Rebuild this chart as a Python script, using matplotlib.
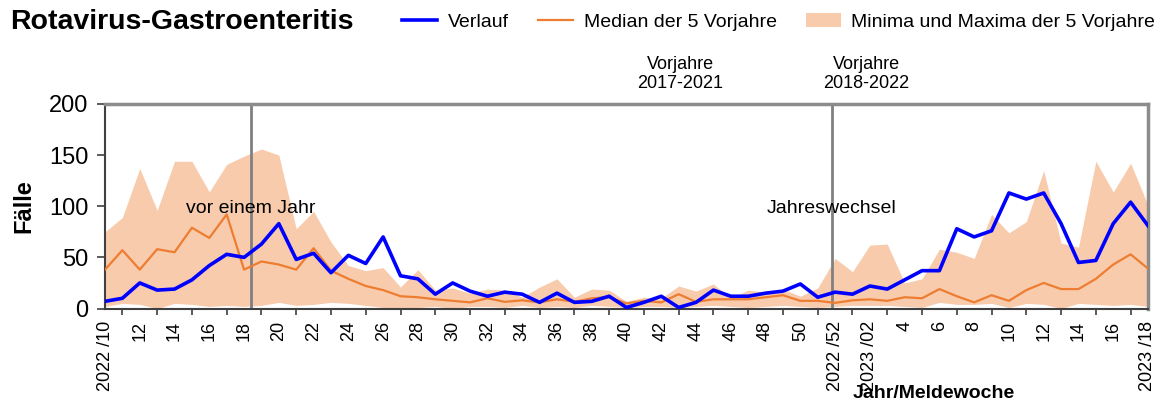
import numpy as np
import matplotlib
matplotlib.use("Agg")
import matplotlib.pyplot as plt
from matplotlib.lines import Line2D
from matplotlib.patches import Patch

plt.rcParams['font.family'] = ['Liberation Sans', 'DejaVu Sans']

# ================= Daten =================
# Meldewochen 2022/10 ... 2022/52, 2023/01 ... 2023/18
weeks = [f"2022/{w:02d}" for w in range(10, 53)] + [f"2023/{w:02d}" for w in range(1, 19)]

verlauf = [7, 10, 25, 18, 19, 28, 42, 53, 50, 63,
           83, 48, 54, 35, 52, 44, 70, 32, 29, 14,
           25, 17, 12, 16, 14, 6, 15, 6, 7, 12,
           1, 6, 12, 1, 6, 18, 12, 12, 15, 17,
           24, 11, 16, 14, 22, 19, 28, 37, 37, 78,
           70, 76, 113, 107, 113, 83, 45, 47, 83, 104,
           81]

median5 = [38, 57, 38, 58, 55, 79, 69, 92, 38, 46,
           43, 38, 59, 37, 29, 22, 18, 12, 11, 9,
           7.5, 6, 10, 6.5, 8, 6, 9, 6.5, 10, 11,
           5, 7.5, 6, 14, 6.5, 9, 9, 9, 11, 13,
           7.5, 7.5, 5.5, 8, 9, 7.5, 11, 10, 19, 12,
           6, 13, 7.5, 18, 25, 19, 19, 29, 43, 53,
           39]

max5 = [75, 89, 137, 96, 144, 144, 114, 141, 149, 156,
        150, 78, 95, 65, 42, 37, 40, 21, 38, 18,
        20, 15, 19, 18, 11, 21, 29, 11, 19, 18,
        7, 11, 10, 22, 17, 24, 10, 18, 16, 19,
        12, 20, 49, 36, 62, 63, 25, 29, 58, 55,
        49, 92, 74, 85, 135, 64, 60, 144, 114, 142,
        101]

min5 = [2, 5, 4, 0, 5, 4, 2, 3, 2, 3,
        6, 3, 4, 6, 5, 3, 1, 0, 1, 2,
        0, 2, 2, 1, 3, 1, 2, 1, 3, 2,
        1, 2, 2, 1, 2, 3, 2, 1, 2, 3,
        2, 1, 2, 3, 3, 3, 2, 1, 6, 4,
        4, 5, 1, 5, 4, 0, 5, 4, 3, 4,
        2]

# Tick-Beschriftungen (jede zweite Woche)
tick_labels = ["2022 /10", "12", "14", "16", "18", "20", "22", "24", "26", "28",
               "30", "32", "34", "36", "38", "40", "42", "44", "46", "48",
               "50", "2022 /52", "2023 /02", "4", "6", "8", "10", "12", "14", "16",
               "2023 /18"]

line_vorjahr = 8.38       # "vor einem Jahr"
line_jahreswechsel = 41.8  # "Jahreswechsel"

# ================= Plot =================
c_blue = "#0000FF"
c_orange = "#ED7D31"
c_fill = "#F8CBAD"

x = np.arange(len(weeks))

fig = plt.figure(figsize=(11.66, 4.03), dpi=100)
ax = fig.add_axes([105/1166, 1 - 308.5/403, (1148 - 105)/1166, (308.5 - 104)/403])

ax.fill_between(x, min5, max5, color=c_fill, lw=0, zorder=1)
ax.plot(x, median5, color=c_orange, lw=1.6, zorder=3)
ax.plot(x, verlauf, color=c_blue, lw=2.6, zorder=4)

ax.axvline(line_vorjahr, color="#808080", lw=2, zorder=2)
ax.axvline(line_jahreswechsel, color="#808080", lw=2, zorder=2)

ax.set_xlim(0, len(weeks) - 1)
ax.set_ylim(0, 200)
ax.set_yticks([0, 50, 100, 150, 200])
ax.tick_params(axis='y', labelsize=17, length=6, width=1.2, color="#404040", pad=6)

ax.set_xticks(x[::2])
ax.set_xticklabels(tick_labels, rotation=90, fontsize=13)
ax.set_xticks(x[1::2], minor=True)
ax.tick_params(axis='x', which='major', length=0, pad=9)
ax.tick_params(axis='x', which='minor', length=4, width=1.2, color="#404040")

for s in ["left", "bottom"]:
    ax.spines[s].set_color("#404040")
    ax.spines[s].set_linewidth(1.5)
for s in ["top", "right"]:
    ax.spines[s].set_color("#8c8c8c")
    ax.spines[s].set_linewidth(2.5)

ax.set_ylabel("Fälle", fontsize=17, fontweight="bold", labelpad=10)

ax.text(line_vorjahr, 98, "vor einem Jahr", ha="center", va="center", fontsize=14)
ax.text(line_jahreswechsel, 98, "Jahreswechsel", ha="center", va="center", fontsize=14)

ax.annotate("Vorjahre\n2017-2021", xy=(33.1, 1.145), xycoords=("data", "axes fraction"),
            ha="center", va="center", fontsize=13, linespacing=1.15)
ax.annotate("Vorjahre\n2018-2022", xy=(43.8, 1.145), xycoords=("data", "axes fraction"),
            ha="center", va="center", fontsize=13, linespacing=1.15)

fig.text(10/1166, 1 - 22/403, "Rotavirus-Gastroenteritis", fontsize=20.5, fontweight="bold",
         ha="left", va="center")
fig.text(934/1166, 1 - 393/403, "Jahr/Meldewoche", fontsize=14, fontweight="bold",
         ha="center", va="center")

handles = [Line2D([], [], color=c_blue, lw=2.6),
           Line2D([], [], color=c_orange, lw=1.6),
           Patch(facecolor=c_fill, edgecolor="none")]
labels = ["Verlauf", "Median der 5 Vorjahre", "Minima und Maxima der 5 Vorjahre"]
fig.legend(handles, labels, loc="center left", bbox_to_anchor=(402/1166, 1 - 22/403),
           ncol=3, frameon=False, fontsize=14, handlelength=1.8, handletextpad=0.55,
           columnspacing=1.5, borderpad=0, borderaxespad=0)

fig.savefig("out.png", dpi=100)
plt.close()
